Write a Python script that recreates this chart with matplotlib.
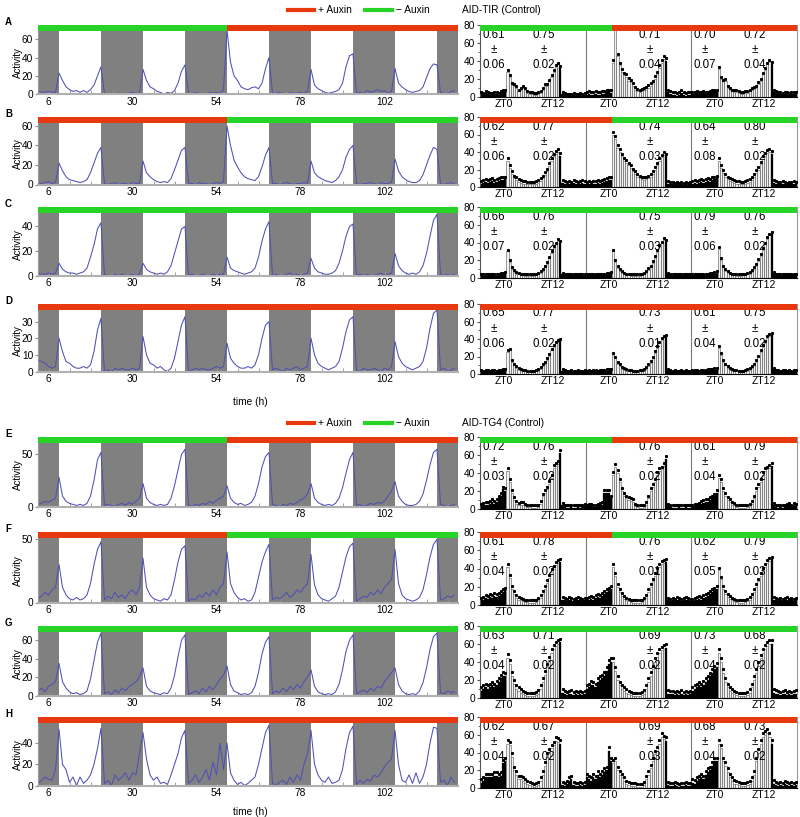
import numpy as np
import matplotlib
matplotlib.use("Agg")
import matplotlib.pyplot as plt
from matplotlib.patches import Rectangle
from matplotlib.lines import Line2D
from matplotlib.transforms import blended_transform_factory
from matplotlib.ticker import FixedLocator, MultipleLocator

plt.rcParams['font.family'] = ['Liberation Sans', 'DejaVu Sans']

# ---------------- data ----------------
ROWS = list("ABCDEFGH")
START_HOUR, END_HOUR, SWITCH_HOUR = 3, 123, 57
LIGHTS_ON = [9, 33, 57, 81, 105, 123]
LIGHTS_OFF = [3, 21, 45, 69, 93, 117]
LEFT_XTICKS = [6, 30, 54, 78, 102]

# auxin condition before / after the switch ('+' red, '-' green)
COND_BEFORE = ['-', '+', '-', '+', '-', '+', '-', '+']
COND_AFTER = ['+', '-', '-', '+', '+', '-', '-', '+']

LEFT_YMAX = [69, 63, 51, 37, 61, 51, 69, 59]
LEFT_YTICKS = [[0, 20, 40, 60], [0, 20, 40, 60], [0, 20, 40], [0, 10, 20, 30],
               [0, 50], [0, 50], [0, 20, 40, 60], [0, 20, 40]]

# hourly activity, hours 3..122
act_A = [3,2,2,3,2,2, 23, 15,8,5,3,4,2,4,2,5,10,20, 30, 1,0,1,0,1,1,0,1,2,1,1,
         27, 15,8,6,3,2,0,2,1,4,12,25, 32, 1,0,2,1,1,0,2,1,2,1,5,
         70, 35,20,15,8,6,5,7,8,6,12,28, 40, 1,1,2,1,0,2,1,1,2,1,3,
         27, 10,6,4,2,1,2,3,5,12,30,42, 44, 1,2,1,4,2,3,5,3,4,1,3,
         28, 12,8,5,3,2,3,4,8,18,28,33, 32, 2,1,1,3,4]
act_B = [2,1,2,3,1,2, 22, 14,8,5,4,3,2,3,5,12,22,32, 38, 1,0,1,2,0,1,1,0,2,1,1,
         24, 12,8,5,3,2,3,2,6,15,25,35, 38, 1,1,0,2,1,1,0,1,2,1,3,
         60, 40,25,18,12,8,6,5,4,8,18,30, 38, 1,1,0,1,2,1,0,1,1,2,1,
         24, 12,8,6,4,3,2,4,8,15,28,36, 40, 1,0,1,1,2,1,0,2,1,1,2,
         26, 14,8,5,3,2,2,4,10,20,30,38, 36, 1,0,1,2,1]
act_C = [2,1,1,2,1,2, 10, 5,3,2,2,1,2,3,6,15,25,38, 43, 1,0,0,1,0,1,0,0,1,0,1,
         10, 5,3,2,1,2,1,3,8,18,28,38, 40, 0,1,0,0,1,0,0,1,0,1,1,
         15, 6,4,3,2,1,2,3,6,15,28,38, 44, 0,1,0,0,1,2,0,1,0,1,2,
         14, 6,3,2,1,1,2,4,10,20,32,40, 42, 0,1,0,1,0,0,1,2,0,1,2,
         18, 8,4,2,1,2,1,3,8,18,32,45, 50, 1,0,1,0,1]
act_D = [7,6,5,3,2,3, 20, 12,6,5,3,2,2,3,2,4,12,25, 32, 0,1,0,2,1,2,1,1,2,1,2,
         21, 10,5,4,2,3,1,0,2,8,18,28, 33, 0,1,2,1,2,1,1,2,3,2,3,
         17, 8,5,3,2,2,3,2,4,10,20,28, 30, 1,2,1,0,2,1,2,3,1,2,3,
         20, 10,5,3,2,1,2,3,6,14,24,31, 33, 1,0,2,1,1,2,1,0,2,1,3,
         18, 9,5,3,2,1,2,3,6,14,26,35, 37, 1,2,0,1,2]
act_E = [2,3,5,4,6,8, 28, 10,5,3,2,1,2,1,3,10,25,45, 52, 1,2,1,0,2,3,1,4,2,5,8,
         22, 8,4,2,1,2,1,2,8,20,35,50, 55, 1,0,2,1,3,2,5,3,6,8,10,
         20, 8,4,2,3,1,2,4,10,22,38,48, 52, 2,1,0,2,1,3,2,4,6,8,12,
         22, 8,4,2,1,2,1,3,8,18,32,45, 52, 1,2,0,1,3,2,4,3,5,10,15,
         24, 10,5,2,1,1,2,5,12,25,40,52, 55, 2,1,0,1,2]
act_F = [3,5,8,6,10,12, 30, 12,6,3,2,4,2,3,6,15,30,42, 48, 2,5,3,8,4,6,3,8,10,6,12,
         35, 12,6,3,2,1,3,2,6,18,32,42, 45, 1,3,2,6,4,8,5,10,6,12,15,
         40, 15,8,4,2,3,1,2,8,20,32,40, 46, 2,4,3,5,8,4,6,10,8,12,15,
         38, 14,6,3,2,1,3,5,12,24,36,44, 47, 1,3,5,4,8,6,10,7,12,15,18,
         42, 15,6,3,2,1,2,4,10,22,36,46, 50, 2,3,5,4,6]
act_G = [5,8,4,10,12,15, 35, 15,8,4,2,3,1,2,5,18,38,58, 68, 2,4,1,6,3,8,5,10,12,15,20,
         30, 10,5,3,2,1,3,2,8,22,42,60, 66, 1,3,5,2,8,4,10,6,12,18,22,
         32, 12,5,3,1,2,1,3,10,25,45,58, 64, 2,5,3,8,4,10,6,12,8,15,20,
         28, 10,4,2,1,2,1,4,12,28,48,60, 66, 2,4,6,3,8,5,10,8,15,20,25,
         30, 12,5,2,1,2,1,5,14,30,50,64, 68, 3,2,5,3,4]
act_H = [2,5,8,6,5,15, 53, 20,15,3,8,0,8,2,5,10,20,35, 54, 2,5,0,10,5,8,12,5,12,10,30,
         50, 25,10,5,8,2,3,1,10,20,30,45, 52, 2,5,10,3,8,15,5,22,10,40,15,
         40, 12,5,1,3,0,2,5,8,20,35,50, 57, 2,0,3,5,1,8,3,10,5,20,30,
         52, 20,10,5,3,8,2,3,5,15,35,50, 56, 1,5,2,6,4,10,8,12,18,22,25,
         52, 20,5,3,10,2,12,2,8,20,40,55, 54, 3,5,0,8,3]
LEFT_DATA = [act_A, act_B, act_C, act_D, act_E, act_F, act_G, act_H]

# averaged 30-min bins per section (ZT-6 .. ZT18): 12 dark, 24 light, 12 dark
A_s1 = [3,2,4,3,2,2,3,3,2,4,5,6, 28,22,13,12,10,6,8,10,8,4,3,3,2,2,3,4,8,12,12,17,22,28,33,36, 32,3,2,1,1,1,2,1,1,2,1,2]
A_s2 = [2,3,2,2,3,2,2,3,3,5,5,4, 38,80,45,35,28,24,22,18,16,12,8,6,5,6,7,8,10,12,15,20,25,32,38,42, 40,5,3,2,2,1,2,4,2,1,2,2]
A_s3 = [3,3,4,3,3,4,3,3,4,5,6,6, 31,20,17,18,10,8,6,5,5,4,3,3,4,4,6,8,9,10,14,18,25,30,36,39, 37,5,4,3,3,2,3,3,2,3,3,3]
B_s1 = [4,5,6,5,6,7,5,6,7,8,8,9, 30,22,15,10,8,6,5,4,4,3,3,3,3,4,5,7,10,14,18,24,30,35,38,40, 36,5,4,3,4,3,5,4,3,4,5,4]
B_s2 = [3,4,3,4,4,5,4,5,6,7,8,8, 60,55,45,40,35,30,28,25,22,18,15,12,10,9,8,9,10,12,15,20,25,30,34,37, 35,4,3,3,2,3,2,3,2,3,2,3]
B_s3 = [4,5,4,5,6,5,6,7,6,8,9,10, 30,22,16,12,9,7,6,5,4,4,3,3,4,5,6,8,12,16,20,26,32,36,39,40, 38,5,4,3,3,4,3,2,3,3,4,3]
C_s1 = [2,3,2,3,2,3,3,2,3,4,4,5, 30,18,10,7,5,4,3,3,2,2,2,2,2,3,4,6,8,12,16,22,28,34,38,42, 40,4,3,2,2,2,3,2,2,3,2,2]
C_s2 = [2,2,3,2,3,2,2,3,3,4,4,5, 30,18,11,8,6,4,3,3,2,2,2,2,2,3,4,6,9,12,17,23,29,35,39,43, 41,4,3,2,2,3,2,2,3,2,2,3]
C_s3 = [2,3,3,2,3,3,2,3,4,4,5,6, 33,20,12,8,6,4,3,3,2,2,2,3,3,4,5,7,10,14,19,25,32,38,44,48, 50,5,3,3,2,3,2,3,2,3,3,2]
D_s1 = [3,2,3,3,2,3,3,2,3,3,4,4, 25,27,14,10,7,5,4,3,3,2,2,2,2,3,4,6,9,12,16,21,27,31,35,37, 38,4,3,2,2,3,2,2,3,2,2,3]
D_s2 = [2,3,2,3,3,2,3,3,3,4,4,4, 22,18,12,9,6,5,4,3,3,2,2,2,3,3,4,6,9,13,18,24,30,35,39,42, 43,4,3,2,3,2,2,3,2,3,2,2]
D_s3 = [3,3,3,2,3,3,3,4,4,4,5,5, 30,22,14,10,7,5,4,3,3,2,2,2,3,4,5,7,10,14,19,25,31,36,41,44, 45,5,3,3,2,3,3,2,3,2,3,3]
E_s1 = [3,4,5,5,6,8,6,8,12,15,22,20, 42,30,18,10,6,4,5,5,3,2,2,1,1,1,2,6,14,18,22,28,35,46,48,50, 62,4,2,1,1,2,1,1,2,1,2,3]
E_s2 = [2,3,3,2,2,3,4,5,18,18,18,12, 38,47,40,30,20,15,12,10,9,8,3,2,1,1,2,5,12,20,25,30,38,42,44,48, 56,3,2,1,1,1,2,1,1,2,1,1]
E_s3 = [2,3,3,4,6,7,8,8,10,12,14,18, 35,30,20,15,10,8,5,4,2,1,1,1,1,2,3,6,12,20,25,30,38,42,44,46, 48,4,2,1,2,1,2,3,4,2,4,3]
F_s1 = [5,6,8,7,9,8,10,9,10,12,14,16, 42,30,18,12,8,6,5,4,3,3,2,2,2,3,5,8,12,18,24,30,36,40,44,46, 47,6,5,4,6,5,4,5,6,5,4,5]
F_s2 = [5,6,7,6,8,9,8,10,12,14,16,18, 42,32,20,14,10,7,5,4,3,2,2,2,2,3,5,8,14,20,26,32,38,42,45,46, 47,5,4,5,4,6,5,4,5,6,5,4]
F_s3 = [4,5,6,7,6,8,9,10,12,14,16,18, 38,28,18,12,9,7,5,4,3,2,2,2,3,4,6,9,14,20,26,32,38,42,46,48, 50,6,5,4,5,4,5,6,4,5,4,5]
G_s1 = [8,10,12,10,12,14,12,15,18,22,25,24, 45,38,25,16,10,8,6,4,3,2,2,2,2,3,5,10,18,26,34,42,50,55,58,60, 62,6,4,3,4,5,3,4,3,4,3,4]
G_s2 = [10,12,15,14,12,18,20,22,25,30,38,40, 40,30,20,14,10,8,6,4,3,2,2,2,2,3,5,10,18,25,32,40,46,50,53,55, 56,5,4,4,3,4,3,5,3,4,3,4]
G_s3 = [8,10,12,14,12,15,18,20,24,28,32,35, 50,40,28,18,12,8,6,4,3,2,2,2,2,3,6,12,20,28,36,44,50,55,58,60, 60,6,5,4,3,4,5,3,4,3,4,5]
H_s1 = [6,8,12,12,12,12,14,14,12,14,28,30, 50,48,35,20,15,10,10,8,6,4,3,2,1,2,3,8,15,25,35,40,45,48,53,52, 50,3,2,4,8,10,3,2,2,3,2,3]
H_s2 = [12,10,8,12,10,15,12,15,18,20,42,30, 28,30,20,15,12,8,4,3,2,2,2,1,1,1,3,10,15,22,30,38,42,50,58,55, 53,3,2,2,3,2,1,2,2,3,2,2]
H_s3 = [6,5,8,10,12,10,15,18,20,25,30,30, 50,45,30,25,18,12,8,5,4,3,2,2,2,3,4,8,15,30,40,50,58,60,62,58, 50,5,3,2,3,2,4,3,2,3,2,3]
RIGHT_DATA = [[A_s1, A_s2, A_s3], [B_s1, B_s2, B_s3], [C_s1, C_s2, C_s3], [D_s1, D_s2, D_s3],
              [E_s1, E_s2, E_s3], [F_s1, F_s2, F_s3], [G_s1, G_s2, G_s3], [H_s1, H_s2, H_s3]]
# SEM of bins per section
RIGHT_SEM = [[2, 3, 2], [3, 3, 3], [2, 2, 2], [2, 2, 2], [3, 3, 3], [3, 3, 3], [4, 4, 4], [4, 4, 4]]

# anticipation indices (mean, sem): s1 morning, s1 evening, s2 morning, s2 evening, s3 morning, s3 evening
INDEX = [
    [(0.61, 0.06), (0.75, 0.02), None, (0.71, 0.04), (0.70, 0.07), (0.72, 0.04)],
    [(0.62, 0.06), (0.77, 0.02), None, (0.74, 0.03), (0.64, 0.08), (0.80, 0.02)],
    [(0.66, 0.07), (0.76, 0.02), None, (0.75, 0.03), (0.79, 0.06), (0.76, 0.02)],
    [(0.65, 0.06), (0.77, 0.02), None, (0.73, 0.01), (0.61, 0.04), (0.75, 0.02)],
    [(0.72, 0.03), (0.76, 0.02), None, (0.76, 0.02), (0.61, 0.04), (0.79, 0.02)],
    [(0.61, 0.04), (0.78, 0.02), None, (0.76, 0.01), (0.62, 0.05), (0.79, 0.03)],
    [(0.63, 0.04), (0.71, 0.02), None, (0.69, 0.02), (0.73, 0.04), (0.68, 0.02)],
    [(0.62, 0.04), (0.67, 0.02), None, (0.69, 0.03), (0.68, 0.04), (0.73, 0.02)],
]
GROUP_TITLES = ["AID-TIR (Control)", "AID-TG4 (Control)"]

# ---------------- style / layout ----------------
W, H = 800, 817
RED, GREEN = '#e8380e', '#27d327'
COND_COL = {'+': RED, '-': GREEN}
SHADE = '#808080'
LINE = '#5050b4'
ROW_TOP = [25, 117, 207, 304, 437, 532, 626, 717]
ROW_BOT = [96.7, 187, 278, 374, 509, 605, 698, 788]
BAR_PX = 6

fig = plt.figure(figsize=(W / 100, H / 100), dpi=100)


def fx(px):
    return px / W


def fy(py):
    return 1 - py / H


for r, row in enumerate(ROWS):
    top, bot = ROW_TOP[r], ROW_BOT[r]
    # ---------- left: actogram trace ----------
    l_top, l_bot = top + BAR_PX, bot - 2.5
    axl = fig.add_axes([fx(38), fy(l_bot), fx(420), (l_bot - l_top) / H])
    for off, on in zip(LIGHTS_OFF, LIGHTS_ON):
        axl.axvspan(off, on, color=SHADE, lw=0, zorder=0)
    y = np.array(LEFT_DATA[r], dtype=float)
    x = START_HOUR + np.arange(len(y))
    axl.plot(x, y, color=LINE, lw=0.75, zorder=2)
    axl.set_xlim(START_HOUR, END_HOUR)
    axl.set_ylim(0, LEFT_YMAX[r])
    tr = blended_transform_factory(axl.transData, axl.transAxes)
    hax = BAR_PX / (l_bot - l_top)
    axl.add_patch(Rectangle((START_HOUR, 1), SWITCH_HOUR - START_HOUR, hax, transform=tr,
                            color=COND_COL[COND_BEFORE[r]], clip_on=False, lw=0))
    axl.add_patch(Rectangle((SWITCH_HOUR, 1), END_HOUR - SWITCH_HOUR, hax, transform=tr,
                            color=COND_COL[COND_AFTER[r]], clip_on=False, lw=0))
    for s in ['top', 'right']:
        axl.spines[s].set_visible(False)
    axl.spines['left'].set_color('#9a9a9a')
    axl.spines['bottom'].set_color('#b0b0b0')
    axl.spines['bottom'].set_linewidth(1.5)
    axl.set_xticks(LEFT_XTICKS)
    axl.xaxis.set_minor_locator(FixedLocator([h for h in range(12, END_HOUR, 6) if h not in LEFT_XTICKS]))
    axl.tick_params(axis='x', which='both', direction='in', length=3, color='#909090',
                    labelsize=7.3, pad=2)
    axl.set_yticks(LEFT_YTICKS[r])
    axl.tick_params(axis='y', length=2.5, color='#909090', labelsize=7.3, pad=1)
    axl.set_ylabel('Activity', fontsize=7)
    axl.yaxis.set_label_coords(-0.036, 0.5)

    # ---------- right: averaged eduction ----------
    axr = fig.add_axes([fx(480), fy(bot), fx(317), (bot - top) / H])
    for s, sec in enumerate(RIGHT_DATA[r]):
        vals = np.array(sec, dtype=float)
        idx = np.arange(len(vals))
        xs = s * 24 + idx * 0.5
        light = (idx >= 12) & (idx < 36)
        axr.bar(xs[light], vals[light], width=0.5, align='edge', color='#f2f2f2',
                edgecolor='#505050', linewidth=0.4, zorder=2)
        axr.bar(xs[~light], vals[~light], width=0.5, align='edge', color='black',
                edgecolor='black', linewidth=0.2, zorder=2)
        axr.plot(xs + 0.25, vals + RIGHT_SEM[r][s], 's', ms=1.2, color='black', zorder=3)
    axr.set_xlim(0, 72)
    axr.set_ylim(0, 80)
    axr.add_patch(Rectangle((0, 73.5), 30, 6.5, color=COND_COL[COND_BEFORE[r]], lw=0, zorder=5))
    axr.add_patch(Rectangle((30, 73.5), 42, 6.5, color=COND_COL[COND_AFTER[r]], lw=0, zorder=5))
    for sep in (24, 48):
        axr.axvline(sep, color='#7a7a7a', lw=0.8, zorder=1)
    axr.spines['top'].set_visible(False)
    axr.spines['right'].set_color('#9a9a9a')
    axr.spines['right'].set_linewidth(0.8)
    axr.spines['left'].set_color('#555555')
    axr.spines['bottom'].set_color('black')
    axr.set_xticks([5.3, 16.5, 29.3, 40.5, 53.3, 64.5])
    axr.set_xticklabels(['ZT0', 'ZT12'] * 3)
    axr.tick_params(axis='x', length=0, labelsize=7.5, pad=1.5)
    axr.set_yticks([0, 20, 40, 60, 80])
    axr.yaxis.set_minor_locator(MultipleLocator(10))
    axr.tick_params(axis='y', which='major', length=2.5, labelsize=7.3, pad=1, color='#555555')
    axr.tick_params(axis='y', which='minor', length=1.5, color='#555555')
    for k, item in enumerate(INDEX[r]):
        if item is None:
            continue
        s, ev = divmod(k, 2)
        xt = s * 24 + (14.5 if ev else 3.1)
        axr.text(xt, 76, f"{item[0]:.2f}\n±\n{item[1]:.2f}", ha='center', va='top',
                 fontsize=8.3, linespacing=1.35, zorder=4)

    fig.text(fx(5), fy(top - 3), row, fontsize=7, fontweight='bold', va='center', ha='left')

# legends and group titles
for g, ly in enumerate([10, 423]):
    fig.add_artist(Line2D([fx(288), fx(314)], [fy(ly), fy(ly)], color=RED, lw=3))
    fig.text(fx(318), fy(ly), "+ Auxin", fontsize=7.3, va='center')
    fig.add_artist(Line2D([fx(365), fx(392)], [fy(ly), fy(ly)], color=GREEN, lw=3))
    fig.text(fx(396), fy(ly), "\u2212 Auxin", fontsize=7.3, va='center')
    fig.text(fx(462), fy(ly), GROUP_TITLES[g], fontsize=7.3, va='center')

fig.text(fx(250), fy(402), "time (h)", fontsize=7.3, ha='center', va='center')
fig.text(fx(250), fy(812), "time (h)", fontsize=7.3, ha='center', va='center')

fig.savefig("out.png", dpi=100)
